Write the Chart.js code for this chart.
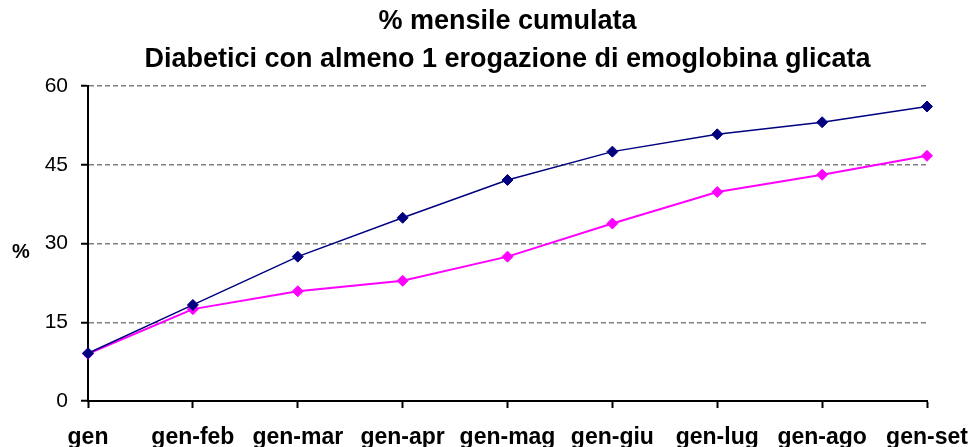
<!DOCTYPE html>
<html><head><meta charset="utf-8">
<script src="https://cdn.jsdelivr.net/npm/chart.js@4"></script>
<style>html,body{margin:0;padding:0;background:#fff}#wrap{width:973px;height:447px}</style>
</head><body><div id="wrap"><canvas id="c" width="973" height="447"></canvas></div>
<script>
const categories = ['gen','gen-feb','gen-mar','gen-apr','gen-mag','gen-giu','gen-lug','gen-ago','gen-set'];
const seriesNavy = [9.1, 18.3, 27.5, 34.9, 42.1, 47.5, 50.8, 53.1, 56.1];
const seriesMagenta = [9.0, 17.5, 20.9, 22.9, 27.5, 33.8, 39.8, 43.1, 46.7];
const yTicks = [0, 15, 30, 45, 60];
const titleLines = ['% mensile cumulata', 'Diabetici con almeno 1 erogazione di emoglobina glicata'];
const yAxisLabel = '%';

const FONT = "'Liberation Sans', Arial, sans-serif";

const yLabelPlugin = {
  id: 'yLabel',
  afterDraw(chart) {
    const ctx = chart.ctx;
    const a = chart.chartArea;
    ctx.save();
    ctx.font = 'bold 20px ' + FONT;
    ctx.fillStyle = '#000';
    ctx.textAlign = 'center';
    ctx.textBaseline = 'middle';
    ctx.fillText(yAxisLabel, 21, (a.top + a.bottom) / 2 + 9);
    ctx.restore();
  }
};

new Chart(document.getElementById('c'), {
  type: 'line',
  data: {
    labels: categories,
    datasets: [
      {
        data: seriesNavy,
        borderColor: '#000080',
        backgroundColor: '#000080',
        borderWidth: 1.5,
        pointStyle: 'rectRot',
        pointRadius: 5.5,
        pointBorderWidth: 1,
        tension: 0,
        fill: false
      },
      {
        data: seriesMagenta,
        borderColor: '#FF00FF',
        backgroundColor: '#FF00FF',
        borderWidth: 2,
        pointStyle: 'rectRot',
        pointRadius: 5.5,
        pointBorderWidth: 1,
        tension: 0,
        fill: false
      }
    ]
  },
  options: {
    responsive: false,
    animation: false,
    layout: { padding: { left: 0, right: 0, top: 0, bottom: 0 } },
    plugins: {
      legend: { display: false },
      tooltip: { enabled: false },
      title: {
        display: true,
        fullSize: false,
        text: titleLines,
        color: '#000',
        font: { family: FONT, size: 27, weight: 'bold', lineHeight: 38 / 27 },
        padding: { top: 3, bottom: 7 }
      }
    },
    scales: {
      x: {
        offset: false,
        afterFit(scale) { scale.height = 46; scale.paddingRight = 46; scale.paddingLeft = 0; },
        grid: {
          display: true,
          drawOnChartArea: false,
          drawTicks: true,
          tickLength: 7,
          tickColor: '#000',
          tickWidth: 2,
          color: '#000'
        },
        border: { display: true, color: '#000', width: 2 },
        ticks: {
          color: '#000',
          font: { family: FONT, size: 23, weight: 'bold' },
          padding: 16,
          maxRotation: 0,
          minRotation: 0,
          autoSkip: false
        }
      },
      y: {
        min: 0,
        max: 60,
        afterFit(scale) { scale.width = 88; },
        afterBuildTicks(scale) { scale.ticks = yTicks.map(v => ({ value: v })); },
        grid: {
          display: true,
          color: ctx => (ctx.tick && ctx.tick.value === 0) ? 'rgba(0,0,0,0)' : '#808080',
          lineWidth: 1.5,
          drawTicks: true,
          tickLength: 7,
          tickColor: '#000',
          tickWidth: 2,
          tickBorderDash: []
        },
        border: { display: true, color: '#000', width: 2, dash: [5, 3] },
        ticks: {
          color: '#000',
          font: { family: FONT, size: 21 },
          padding: 13
        }
      }
    }
  },
  plugins: [yLabelPlugin]
});
</script>
</body></html>
